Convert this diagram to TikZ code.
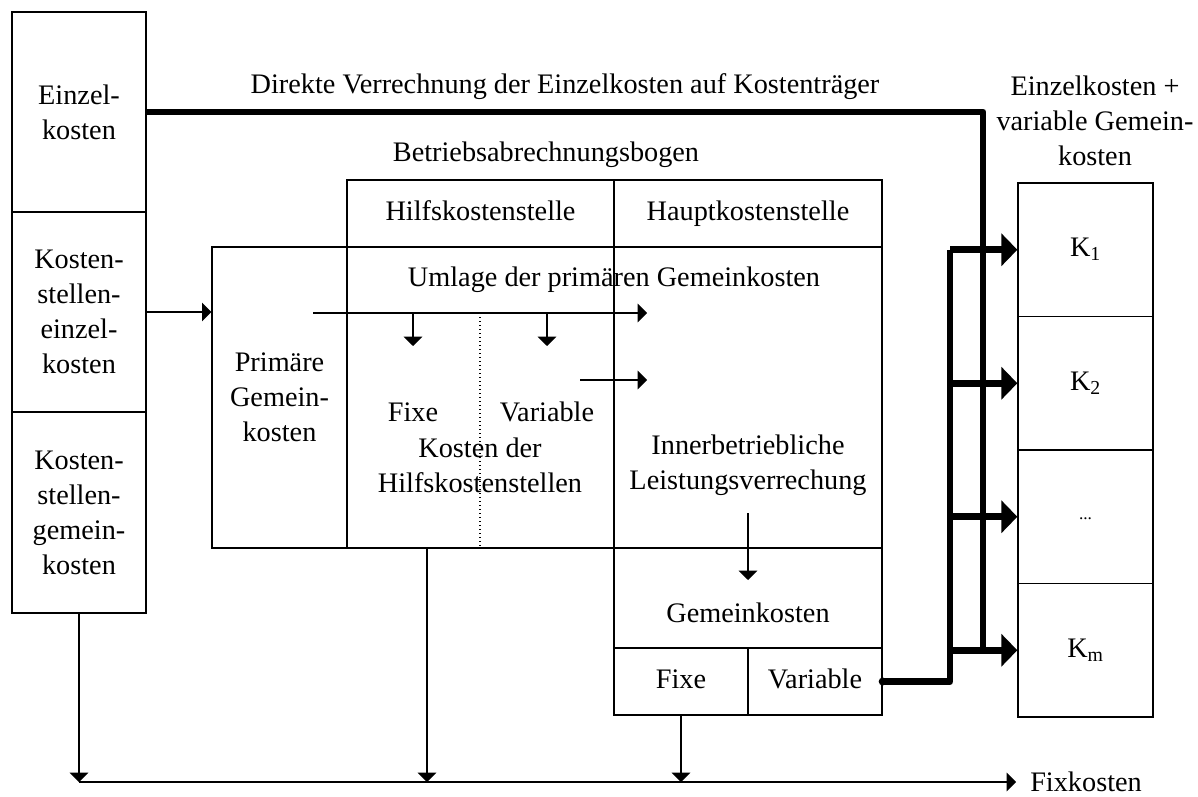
\documentclass[tikz,border=0pt]{standalone}
\usepackage{fontspec}
\setmainfont{Liberation Serif}
\usetikzlibrary{arrows.meta}
\begin{document}
\begin{tikzpicture}[x=0.75pt,y=-0.75pt,
  txt/.style={font=\fontsize{21.2}{26.25}\selectfont, align=center},
  box/.style={draw, line width=1pt, inner sep=0pt, txt},
  lbl/.style={inner sep=0pt, txt},
  wh/.style 2 args={minimum width=#1*0.75pt, minimum height=#2*0.75pt},
  ln/.style={line width=1pt},
  tarr/.style={line width=1pt, -{Triangle[length=7pt,width=14pt]}},
  thk/.style={line width=5pt, line join=round},
  karr/.style={line width=5pt, -{Triangle[length=12pt,width=24pt]}},
]
\useasboundingbox (0,0) rectangle (1198,796);

% left column
\node[box, wh={134}{200}] (ek)  at (79,112)   {Einzel-\\kosten};
\node[box, wh={134}{200}] (kek) at (79,312)   {Kosten-\\stellen-\\einzel-\\kosten};
\node[box, wh={134}{201}] (kgk) at (79,512.5) {Kosten-\\stellen-\\gemein-\\kosten};

% Betriebsabrechnungsbogen
\node[box, wh={135}{301}] (pgk)    at (279.5,397.5) {Primäre\\Gemein-\\kosten};
\node[box, wh={267}{67}]  (hks)    at (480.5,213.5) {\strut Hilfskostenstelle};
\node[box, wh={268}{67}]  (hpks)   at (748,213.5)   {\strut Hauptkostenstelle};
\node[box, wh={267}{301}] (hbody)  at (480.5,397.5) {};
\node[box, wh={268}{301}] (hpbody) at (748,397.5)   {};
\node[box, wh={268}{100}] (gk)     at (748,598)     {};
\node[box, wh={134}{67}]  (fixe)   at (681,681.5)   {\strut Fixe};
\node[box, wh={134}{67}]  (var)    at (815,681.5)   {\strut Variable};

% Kostentraeger
\node[box, wh={135}{133.5}] (k1) at (1085.5,249.75) {\strut K\textsubscript{1}};
\node[box, wh={135}{133.5}] (k2) at (1085.5,383.25) {\strut K\textsubscript{2}};
\node[box, wh={135}{133.5}] (k3) at (1085.5,516.75) {};
\node[box, wh={135}{133.5}] (k4) at (1085.5,650.25) {\strut K\textsubscript{m}};
\node[lbl, font=\fontsize{13}{13}\selectfont] (dots) at (1085.5,519) {...};

% labels
\node[lbl] (dv)   at (565,87)   {Direkte Verrechnung der Einzelkosten auf Kostenträger};
\node[lbl] (bab)  at (546,155)  {Betriebsabrechnungsbogen};
\node[lbl] (ekv)  at (1095,121) {Einzelkosten +\\variable Gemein-\\kosten};
\node[lbl] (uml)  at (614,280)  {Umlage der primären Gemeinkosten};
\node[lbl] (hfix) at (413,412)  {Fixe};
\node[lbl] (hvar) at (547,412)  {Variable};
\node[lbl] (khk)  at (480,465)  {Kosten der\\Hilfskostenstellen};
\node[lbl] (ilv)  at (748,465)  {Innerbetriebliche\\Leistungsverrechung};
\node[lbl] (gkt)  at (748,613)  {Gemeinkosten};
\node[lbl, anchor=west] (fk) at (1030,782) {Fixkosten};

% coordinates
\coordinate (u0) at (313,313);
\coordinate (u1) at (647,313);
\coordinate (d1a) at (413,313);
\coordinate (d1b) at (413,346);
\coordinate (d2a) at (547,313);
\coordinate (d2b) at (547,346);
\coordinate (v0) at (580,380);
\coordinate (v1) at (647,380);
\coordinate (g0) at (748,513);
\coordinate (g1) at (748,580);
\coordinate (dt0) at (480,313);
\coordinate (dt1) at (480,548);
\coordinate (hf) at (427,548);
\coordinate (f0) at (79,782);
\coordinate (f1) at (427,782);
\coordinate (f2) at (681,782);
\coordinate (fend) at (1016,782);
\coordinate (cm) at (983,650.25);
\coordinate (b1) at (950,249.75);
\coordinate (b2) at (950,383.25);
\coordinate (b3) at (950,516.75);
\coordinate (b4) at (950,650.25);

% thin connectors
\draw[tarr] (kek.east) -- (kek.east -| pgk.west);
\draw[tarr] (u0) -- (u1);
\draw[tarr] (d1a) -- (d1b);
\draw[tarr] (d2a) -- (d2b);
\draw[tarr] (v0) -- (v1);
\draw[tarr] (g0) -- (g1);
\draw[ln, dotted] (dt0) -- (dt1);

% Fixkosten
\draw[tarr] (kgk.south) -- (f0);
\draw[tarr] (hf) -- (f1);
\draw[tarr] (fixe.south) -- (f2);
\draw[tarr] (f0) -- (fend);

% thick connectors
\draw[thk] (ek.east) -| (cm);
\draw[thk] (var.east) -| (b1);
\fill (var.east) circle (3pt);
\draw[karr] (b1) -- (k1.west);
\draw[karr] (b2) -- (k2.west);
\draw[karr] (b3) -- (k3.west);
\draw[karr] (b4) -- (k4.west);
\end{tikzpicture}
\end{document}
